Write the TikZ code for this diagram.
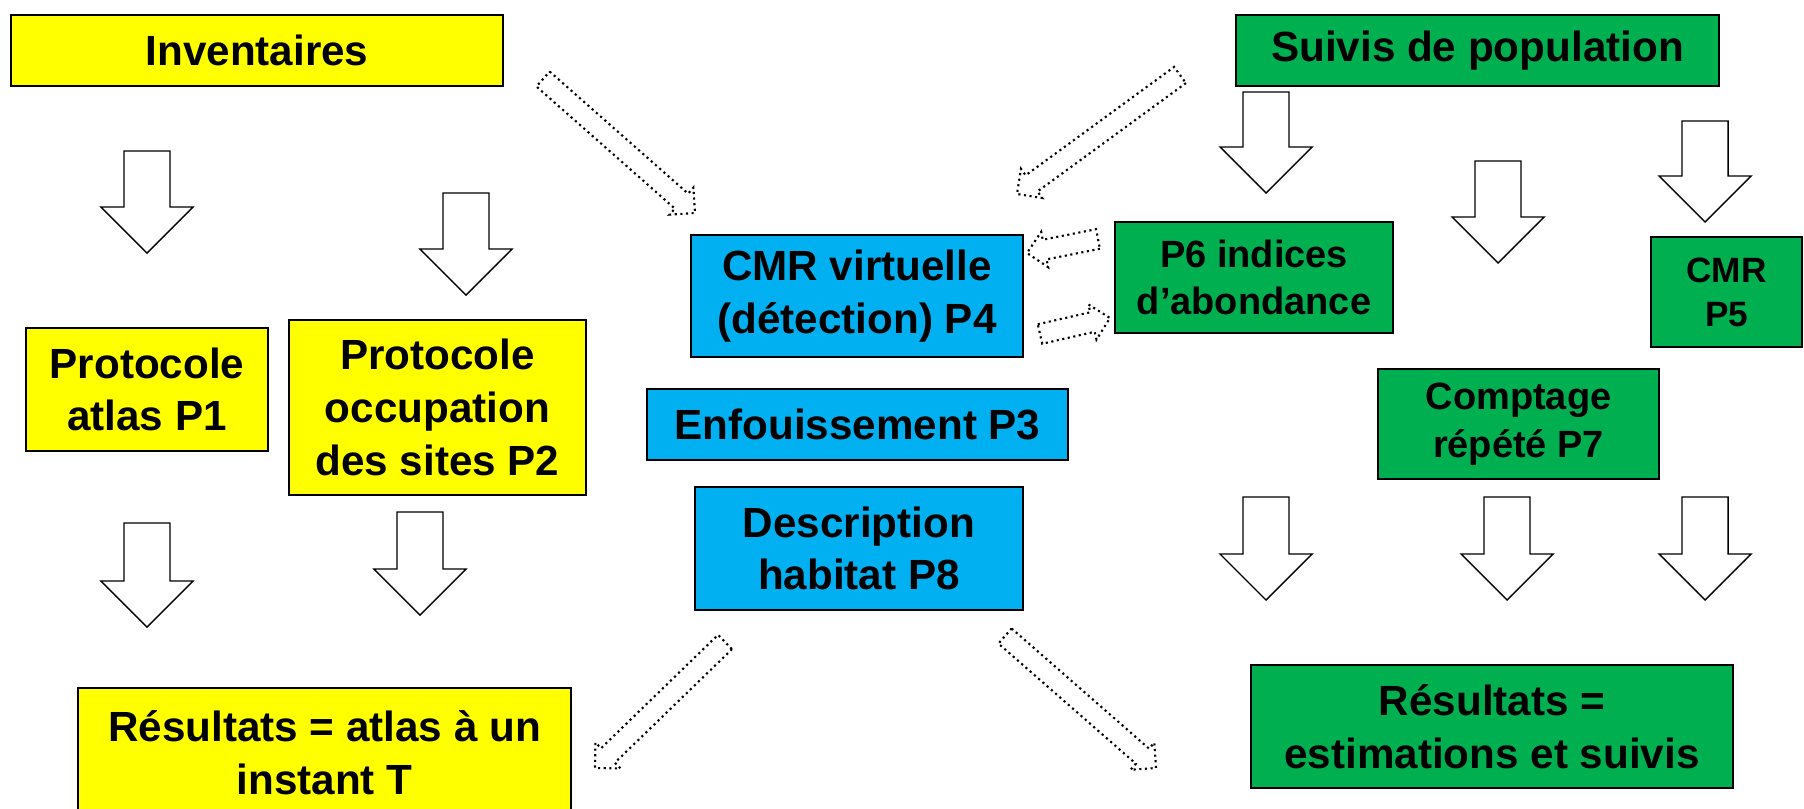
\documentclass[tikz,border=0pt]{standalone}
\usepackage{fontspec}
\setmainfont{Liberation Sans}
\usetikzlibrary{calc}
\definecolor{boxYellow}{HTML}{FFFF00}
\definecolor{boxBlue}{HTML}{00B0F0}
\definecolor{boxGreen}{HTML}{00B050}

\begin{document}
\begin{tikzpicture}[
  x=0.01cm, y=-0.01cm,
  every node/.style={font=\fontsize{12}{15}\selectfont\bfseries},
  boxbase/.style={draw=black, line width=0.6pt, align=center, inner sep=0pt},
  ybox/.style={boxbase, fill=boxYellow},
  bbox/.style={boxbase, fill=boxBlue},
  gbox/.style={boxbase, fill=boxGreen},
  smalltxt/.style={font=\fontsize{10.8}{13.5}\selectfont\bfseries},
  fatarrow/.style 2 args={to path={
      ($(\tikztostart)!#1!90:(\tikztotarget)$)
      -- ($(\tikztotarget)!#2!(\tikztostart)!#1!90:(\tikztotarget)$)
      -- ($(\tikztotarget)!#2!(\tikztostart)!#2!90:(\tikztotarget)$)
      -- (\tikztotarget)
      -- ($(\tikztotarget)!#2!(\tikztostart)!#2!-90:(\tikztotarget)$)
      -- ($(\tikztotarget)!#2!(\tikztostart)!#1!-90:(\tikztotarget)$)
      -- ($(\tikztostart)!#1!-90:(\tikztotarget)$) -- cycle}},
  downarr/.style={fatarrow={0.23cm}{0.46cm}, draw=black, fill=white, line width=0.4pt},
  dotarr/.style={fatarrow={0.1cm}{0.18cm}, draw=black, densely dotted, line width=0.6pt},
]
  \useasboundingbox (0,0) rectangle (1804,808);

  % yellow column
  \node[ybox, minimum width=4.92cm, minimum height=0.71cm] (inv) at (257,50.5) {Inventaires};
  \node[ybox, minimum width=2.42cm, minimum height=1.23cm] (p1) at (147,389.5) {Protocole\\atlas P1};
  \node[ybox, minimum width=2.97cm, minimum height=1.75cm] (p2) at (437.5,407.5) {Protocole\\occupation\\des sites P2};
  \node[ybox, minimum width=4.93cm, minimum height=1.30cm] (resA) at (324.5,753) {Résultats = atlas à un\\instant T};

  % blue column
  \node[bbox, minimum width=3.32cm, minimum height=1.22cm] (p4) at (857,296) {CMR virtuelle\\(détection) P4};
  \node[bbox, minimum width=4.21cm, minimum height=0.71cm] (p3) at (857.5,424.5) {Enfouissement P3};
  \node[bbox, minimum width=3.28cm, minimum height=1.23cm] (p8) at (859,548.5) {Description\\habitat P8};

  % green column
  \node[gbox, minimum width=4.83cm, minimum height=0.71cm] (suivi) at (1477.5,50.5) {Suivis de population};
  \node[gbox, smalltxt, minimum width=2.78cm, minimum height=1.11cm] (p6) at (1254,277.5) {P6 indices\\d’abondance};
  \node[gbox, smalltxt, font=\fontsize{10}{12.5}\selectfont\bfseries, minimum width=1.51cm, minimum height=1.10cm] (p5) at (1726.5,292) {CMR\\P5};
  \node[gbox, smalltxt, minimum width=2.81cm, minimum height=1.10cm] (p7) at (1518.5,424) {Comptage\\répété P7};
  \node[gbox, minimum width=4.82cm, minimum height=1.23cm] (resB) at (1492,726.5) {Résultats =\\estimations et suivis};

  % white block arrows
  \foreach \nm/\x/\ya/\yb in {d1/147/151/253, d2/466/193/295, d3/147/523/627, d4/420/512/615,
      d5/1266/92/193, d6/1498/161/263, d7/1705/121/222,
      d8/1266/497/600, d9/1507/497/600, d10/1705/497/600} {
    \coordinate (\nm-top) at (\x,\ya);
    \coordinate (\nm-tip) at (\x,\yb);
    \draw[downarr] (\nm-top) to (\nm-tip);
  }

  % dotted block arrows
  \coordinate (invOut) at (543,79);   \coordinate (p4InA) at (695,213);
  \coordinate (suiviOut) at (1180,75); \coordinate (p4InB) at (1017,194);
  \coordinate (p6Out) at (1098,239);  \coordinate (p4InC) at (1027,253);
  \coordinate (p4Out) at (1040,334);  \coordinate (p6In) at (1110,318);
  \coordinate (p8OutA) at (725,642);  \coordinate (resAIn) at (595,768);
  \coordinate (p8OutB) at (1005,636); \coordinate (resBIn) at (1156,768);
  \draw[dotarr] (invOut) to (p4InA);
  \draw[dotarr] (suiviOut) to (p4InB);
  \draw[dotarr] (p6Out) to (p4InC);
  \draw[dotarr] (p4Out) to (p6In);
  \draw[dotarr] (p8OutA) to (resAIn);
  \draw[dotarr] (p8OutB) to (resBIn);
\end{tikzpicture}
\end{document}
